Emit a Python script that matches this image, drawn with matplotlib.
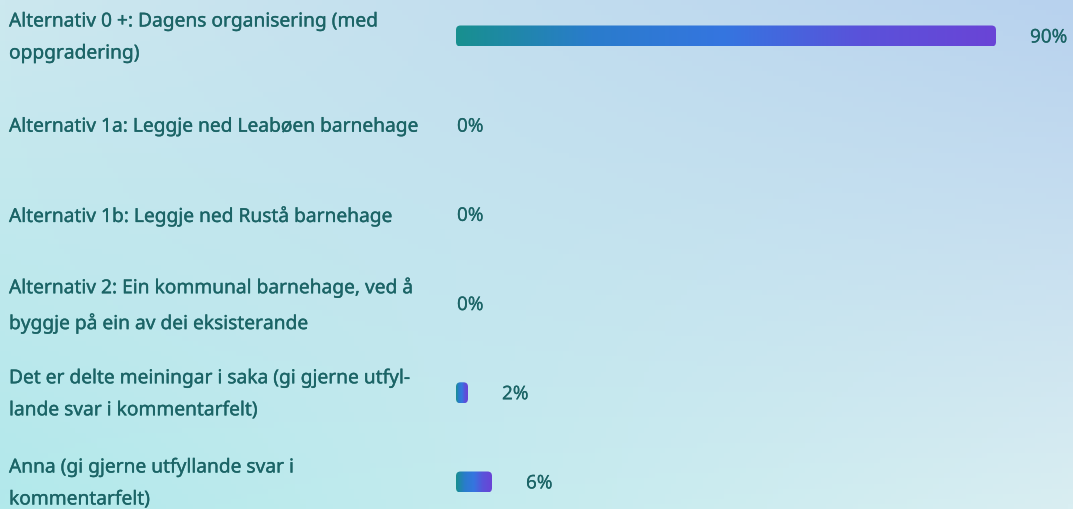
import numpy as np
import matplotlib
matplotlib.use("Agg")
from matplotlib import pyplot as plt
from matplotlib.colors import LinearSegmentedColormap, to_rgb
from matplotlib.patches import FancyBboxPatch
from matplotlib import transforms
import matplotlib.patheffects as pe

plt.rcParams['font.family'] = ['Noto Sans', 'DejaVu Sans']

labels = [
    "Alternativ 0 +: Dagens organisering (med\noppgradering)",
    "Alternativ 1a: Leggje ned Leabøen barnehage",
    "Alternativ 1b: Leggje ned Rustå barnehage",
    "Alternativ 2: Ein kommunal barnehage, ved å\nbyggje på ein av dei eksisterande",
    "Det er delte meiningar i saka (gi gjerne utfyl-\nlande svar i kommentarfelt)",
    "Anna (gi gjerne utfyllande svar i\nkommentarfelt)",
]
values = [90, 0, 0, 0, 2, 6]

text_col = "#1b6466"
bar_cmap = LinearSegmentedColormap.from_list(
    "bar", ["#18908f", "#2a7ccc", "#3575e0", "#5a52da", "#6a44d6"])

W, H = 1073, 509
fig = plt.figure(figsize=(W / 100, H / 100), dpi=100)

# background gradient (4 corners blended)
bg = fig.add_axes([0, 0, 1, 1])
tl, tr = np.array(to_rgb("#cce8ef")), np.array(to_rgb("#b8d2ee"))
bl, br = np.array(to_rgb("#b2e9eb")), np.array(to_rgb("#d9eef2"))
u = np.linspace(0, 1, 200)[None, :, None]
v = np.linspace(0, 1, 100)[:, None, None]
img = (1 - v) * ((1 - u) * tl + u * tr) + v * ((1 - u) * bl + u * br)
bg.imshow(img, aspect="auto", extent=(0, 1, 0, 1), origin="upper")
bg.set_axis_off()

# bar axes: 0..100 % over 600 px starting at x=456
ax = fig.add_axes([456 / W, 0, 600 / W, 1])
row = 89.2
ax.set_axis_off()
ax.patch.set_alpha(0)

bar_h = 21 / row
px_x = 600 / 100
rad = 4.5 / px_x
grad = np.linspace(0, 1, 256)[None, :]
thick = [pe.withStroke(linewidth=0.25, foreground=text_col)]
thin = [pe.withStroke(linewidth=0.12, foreground=text_col)]

lab_tr = transforms.blended_transform_factory(fig.transFigure, ax.transData)
lab_tr = lab_tr + transforms.ScaledTranslation(0, -1.5 / 100, fig.dpi_scale_trans)

for i, (lab, val) in enumerate(zip(labels, values)):
    ax.text(9 / W, i, lab, transform=lab_tr, ha="left", va="center",
            fontsize=13.8, color=text_col, linespacing=1.8, path_effects=thick)
    if val > 0:
        patch = FancyBboxPatch((0, i - bar_h / 2), val, bar_h,
                               boxstyle="round,pad=0,rounding_size=%f" % rad,
                               mutation_aspect=(1 / row) / (1 / px_x),
                               facecolor="none", edgecolor="none")
        ax.add_patch(patch)
        im = ax.imshow(grad, cmap=bar_cmap, aspect="auto",
                       extent=(0, val, i + bar_h / 2, i - bar_h / 2))
        im.set_clip_path(patch)
        off = 34
    else:
        off = 1
    t = transforms.offset_copy(ax.transData, fig=fig, x=off, y=-1.5, units="dots")
    ax.text(val, i, "%d%%" % val, transform=t, ha="left", va="center",
            fontsize=13.6, color=text_col, path_effects=thin)

ax.set_xlim(0, 100)
ax.set_ylim(5 + (H - 482) / row, -36 / row)

fig.savefig("out.png", dpi=100)
